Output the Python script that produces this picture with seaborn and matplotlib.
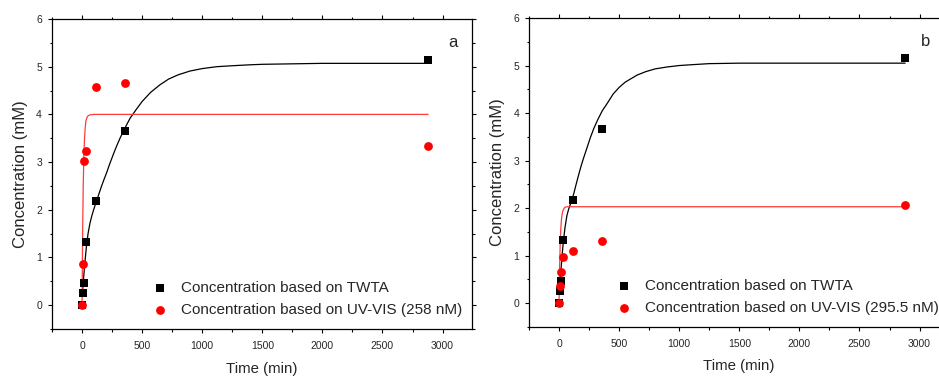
import matplotlib
matplotlib.use("Agg")
import matplotlib.pyplot as plt
import seaborn as sns
import pandas as pd
from matplotlib.ticker import MultipleLocator

# ---------------- data ----------------
time_min = [0, 5, 15, 30, 120, 360, 2880]
twta_conc = [0, 0.25, 0.47, 1.33, 2.18, 3.66, 5.15]
uv_conc_a = [0, 0.86, 3.03, 3.23, 4.57, 4.65, 3.33]
uv_conc_b = [0, 0.36, 0.65, 0.97, 1.10, 1.30, 2.06]

# fitted curves
fit_black_t_a = [3, 10, 19, 27, 36, 50, 66, 80, 94, 108, 122, 140, 163, 185, 205, 230, 260, 290,
                 316, 350, 400, 450, 500, 570, 648, 720, 800, 900, 1000, 1120, 1250, 1400,
                 1500, 1750, 2000, 2400, 2880]
fit_black_a = [0.25, 0.48, 0.75, 0.98, 1.22, 1.50, 1.72, 1.86, 1.98, 2.09, 2.19, 2.33, 2.50, 2.65,
               2.78, 2.96, 3.16, 3.35, 3.50, 3.68, 3.92, 4.10, 4.27, 4.46, 4.62, 4.74, 4.83,
               4.91, 4.96, 5.00, 5.02, 5.04, 5.05, 5.06, 5.07, 5.07, 5.07]
fit_black_t_b = [3, 10, 19, 27, 36, 50, 66, 80, 94, 108, 122, 140, 163, 185, 205, 230, 260, 290,
                 320, 360, 400, 450, 500, 550, 650, 720, 800, 900, 1000, 1120, 1250, 1500,
                 2000, 2880]
fit_black_b = [0.25, 0.50, 0.80, 1.05, 1.30, 1.60, 1.85, 1.98, 2.08, 2.19, 2.30, 2.48, 2.70, 2.90,
               3.06, 3.25, 3.48, 3.68, 3.85, 4.05, 4.20, 4.40, 4.54, 4.65, 4.80, 4.87, 4.93,
               4.97, 5.00, 5.02, 5.04, 5.05, 5.05, 5.05]
fit_red_t_a = [0, 5, 10, 15, 20, 25, 31, 40, 50, 66, 100, 2880]
fit_red_a = [0, 1.57, 2.53, 3.11, 3.46, 3.67, 3.85, 3.93, 3.97, 3.99, 4.00, 4.00]
fit_red_t_b = [0, 5, 10, 15, 20, 25, 30, 40, 50, 66, 100, 2880]
fit_red_b = [0, 0.80, 1.28, 1.58, 1.76, 1.86, 1.93, 1.99, 2.02, 2.03, 2.03, 2.03]

label_twta = "Concentration based on TWTA"
label_uv_a = "Concentration based on UV-VIS (258 nM)"
label_uv_b = "Concentration based on UV-VIS (295.5 nM)"
panel_letters = ["a", "b"]
x_label = "Time (min)"
y_label = "Concentration (mM)"

# ---------------- style ----------------
sns.set_style("ticks")
plt.rcParams['font.family'] = ['Liberation Sans', 'DejaVu Sans']

W, H = 939, 376
fig = plt.figure(figsize=(W / 100, H / 100), dpi=100)

def px_axes(left, top, right, bottom):
    return fig.add_axes([left / W, 1 - bottom / H, (right - left) / W, (bottom - top) / H])

ax_a = px_axes(52, 19, 472, 329)
ax_b = px_axes(529, 18, 949, 327)

RED_PT = "#ff0000"
RED_LINE = "#ff3b3b"

def draw(ax, uv, fit_bt, fit_b, fit_rt, fit_r, uv_label, letter, letter_x, leg_xy):
    sns.lineplot(x=fit_bt, y=fit_b, ax=ax, color="black", lw=0.9,
                 estimator=None, sort=False, legend=False, zorder=2)
    sns.lineplot(x=fit_rt, y=fit_r, ax=ax, color=RED_LINE, lw=0.9,
                 estimator=None, sort=False, legend=False, zorder=2)
    sns.scatterplot(x=time_min, y=twta_conc, ax=ax, marker="s", color="black",
                    s=34, linewidth=0, label=label_twta, zorder=3)
    sns.scatterplot(x=time_min, y=uv, ax=ax, marker="o", color=RED_PT,
                    s=40, linewidth=0, label=uv_label, zorder=4)
    ax.set_xlim(-250, 3245)
    ax.set_ylim(-0.5, 6)
    ax.xaxis.set_major_locator(MultipleLocator(500))
    ax.xaxis.set_minor_locator(MultipleLocator(250))
    ax.yaxis.set_major_locator(MultipleLocator(1))
    ax.yaxis.set_minor_locator(MultipleLocator(0.5))
    ax.tick_params(which="major", direction="out", length=3.2, width=0.8,
                   labelsize=7.5, pad=4, top=True, right=True, color="black")
    ax.tick_params(which="minor", direction="out", length=1.8, width=0.8,
                   top=True, right=True, color="black")
    ax.tick_params(which="major", axis="x", pad=5.5)
    ax.tick_params(which="both", labeltop=False, labelright=False)
    for sp in ax.spines.values():
        sp.set_visible(True)
        sp.set_linewidth(0.9)
        sp.set_color("black")
    ax.set_xlabel(x_label, fontsize=10.8)
    ax.set_ylabel(y_label, fontsize=12)
    ax.xaxis.set_label_coords(0.5, -0.105)
    ax.yaxis.set_label_coords(-0.057, 0.5)
    ax.text(letter_x, 0.925, letter, transform=ax.transAxes, fontsize=12,
            ha="center", va="center")
    leg = ax.legend(frameon=False, loc="upper left", bbox_to_anchor=leg_xy,
                    bbox_transform=fig.transFigure, fontsize=11,
                    handlelength=1.0, handletextpad=0.87, labelspacing=0.5,
                    borderpad=0, borderaxespad=0, markerscale=1.0)
    return leg

draw(ax_a, uv_conc_a, fit_black_t_a, fit_black_a, fit_red_t_a, fit_red_a,
     label_uv_a, panel_letters[0], 0.954, (152.3 / W, 1 - 281 / H))
draw(ax_b, uv_conc_b, fit_black_t_b, fit_black_b, fit_red_t_b, fit_red_b,
     label_uv_b, panel_letters[1], (926 - 529) / 420, (616.3 / W, 1 - 279 / H))

fig.savefig("out.png", dpi=100)
